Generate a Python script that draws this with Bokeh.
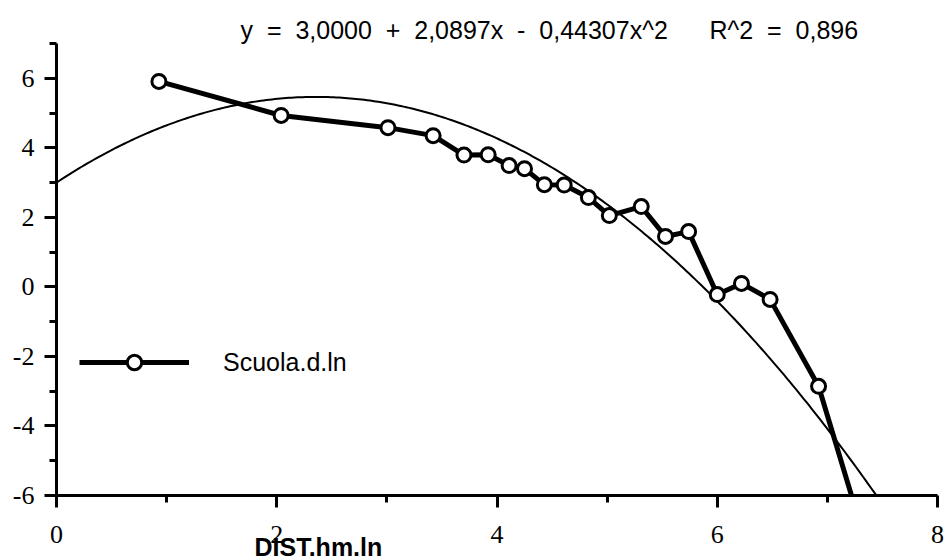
from bokeh.plotting import figure
from bokeh.models import FixedTicker, Legend, LegendItem, Range1d, Title
from bokeh.embed import file_html
from bokeh.resources import INLINE
import numpy as np

# --- data ---
dist_hm_ln = [0.93, 2.04, 3.01, 3.42, 3.70, 3.92, 4.11, 4.25, 4.43, 4.61, 4.83, 5.02,
              5.31, 5.53, 5.74, 6.00, 6.22, 6.48, 6.92, 7.40]
scuola_d_ln = [5.91, 4.93, 4.58, 4.35, 3.79, 3.80, 3.49, 3.40, 2.94, 2.93, 2.57, 2.05,
               2.31, 1.45, 1.59, -0.22, 0.10, -0.36, -2.86, -7.90]
fit_coef = [3.0000, 2.0897, -0.44307]   # y = a + b x + c x^2
fit_r2 = 0.896
x_major = [0, 2, 4, 6, 8]
x_minor = [1, 3, 5, 7]
y_major = [-6, -4, -2, 0, 2, 4, 6]
y_minor = [-5, -3, -1, 1, 3, 5, 7]
series_name = "Scuola.d.ln"
x_title = "DIST.hm.ln"
NB = "\u00a0"
eq_tokens = ["y", "=", "3,0000", "+", "2,0897x", "-", "0,44307x^2"]
r2_tokens = ["R^2", "=", "0,896"]
eq_text = (NB + " ").join(eq_tokens) + (NB * 5 + " ") + (NB + " ").join(r2_tokens)

p = figure(width=946, height=560, output_backend="svg", toolbar_location=None,
           x_range=Range1d(0, 8), y_range=Range1d(-6, 7),
           min_border_left=56, min_border_right=9, min_border_top=43, min_border_bottom=65)
p.outline_line_color = None
p.xgrid.visible = False
p.ygrid.visible = False
p.background_fill_color = "white"
p.border_fill_color = "white"

# fitted regression curve
xs = np.linspace(0, 7.6, 300)
ys = fit_coef[0] + fit_coef[1] * xs + fit_coef[2] * xs ** 2
p.line(xs, ys, line_color="black", line_width=2)

# data series
lr = p.line(dist_hm_ln, scuola_d_ln, line_color="black", line_width=5)
sr = p.scatter(dist_hm_ln, scuola_d_ln, marker="circle", size=14, fill_color="white",
               line_color="black", line_width=3)

legend = Legend(items=[LegendItem(label=series_name, renderers=[lr, sr])],
                location=(23, 115), glyph_width=110, glyph_height=36, label_height=36,
                label_standoff=34, padding=0, margin=0, spacing=0,
                background_fill_alpha=0, border_line_color=None,
                label_text_font="Liberation Sans", label_text_font_size="25px",
                label_text_color="black")
p.add_layout(legend, "center")

for ax, maj, mino in ((p.xaxis[0], x_major, x_minor), (p.yaxis[0], y_major, y_minor)):
    ax.ticker = FixedTicker(ticks=maj, minor_ticks=mino)
    ax.major_label_overrides = {v: str(v) for v in maj}
    ax.axis_line_width = 3
    ax.axis_line_color = "black"
    ax.major_tick_line_width = 3
    ax.minor_tick_line_width = 3
    ax.major_tick_line_color = "black"
    ax.minor_tick_line_color = "black"
    ax.major_tick_in = 0
    ax.minor_tick_in = 0
    ax.major_tick_out = 12
    ax.minor_tick_out = 7
    ax.major_label_text_font = "Liberation Serif"
    ax.major_label_text_font_size = "26px"
    ax.major_label_text_color = "black"

p.xaxis[0].major_label_standoff = 18
p.yaxis[0].major_label_standoff = 10

# equation of the fit, above the plot
p.title.text = eq_text
p.title.align = "left"
p.title.offset = 184
p.title.standoff = 0
p.title.text_font = "Liberation Sans"
p.title.text_font_style = "normal"
p.title.text_font_size = "25px"
p.title.text_color = "black"

# x axis title, placed left of centre and overlapping the tick-label band
xt = Title(text=x_title, align="left", offset=198, standoff=-25, vertical_align="top",
           text_font="Liberation Sans", text_font_style="bold", text_font_size="25px",
           text_color="black")
p.add_layout(xt, "below")

open("out.html", "w").write(file_html(p, INLINE))
